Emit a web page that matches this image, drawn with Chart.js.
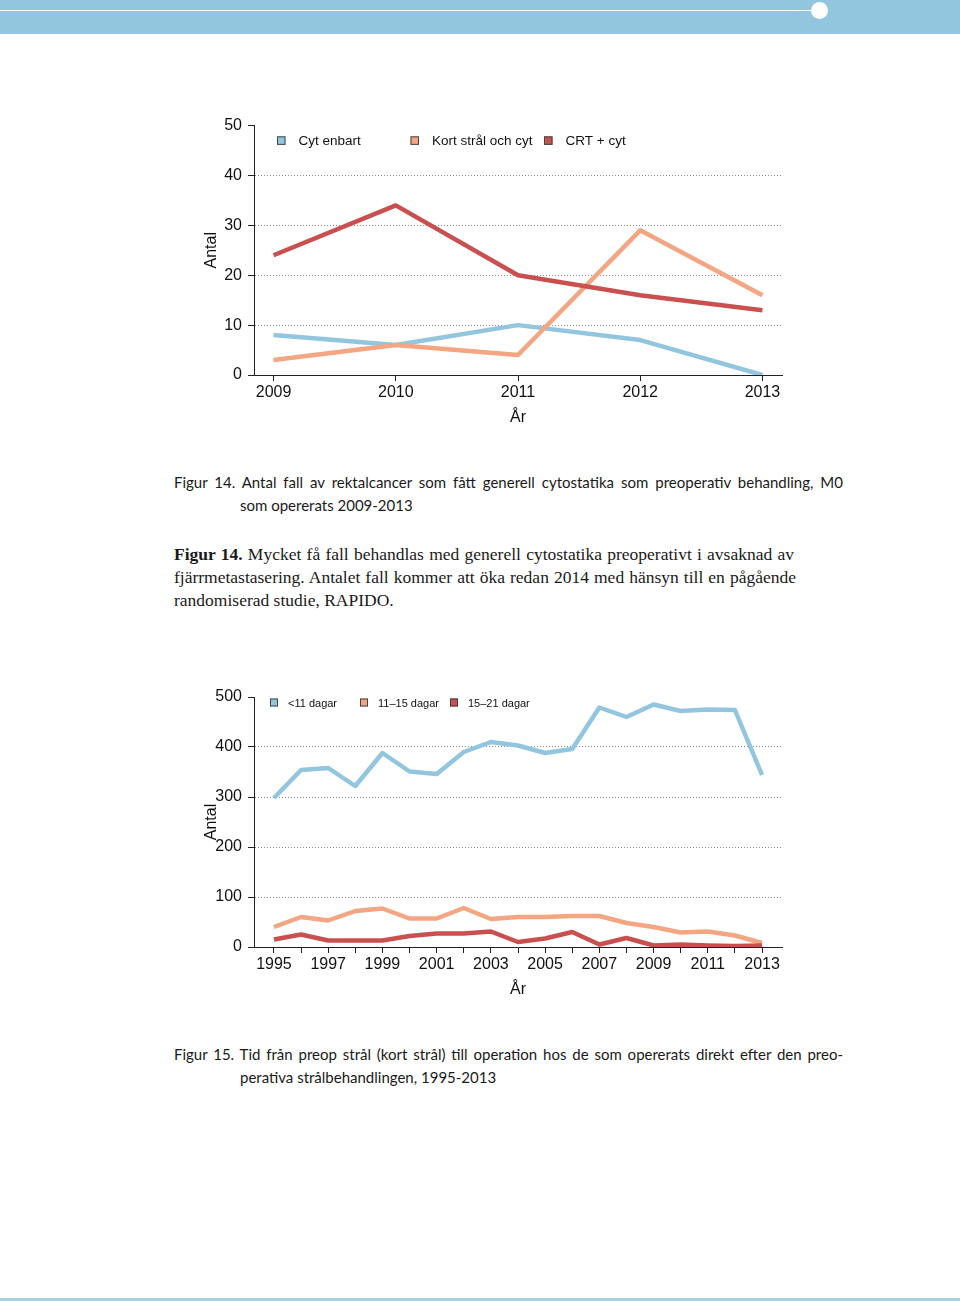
<!DOCTYPE html>
<html>
<head>
<meta charset="utf-8">
<script src="https://cdn.jsdelivr.net/npm/chart.js@4.4.1/dist/chart.umd.min.js"></script>
<style>
  body { margin: 0; width: 960px; height: 1301px; position: relative; background: #fff; overflow: hidden; }
  #topbar { position: absolute; left: 0; top: 0; width: 960px; height: 34px; background: #92c5de; }
  #topline { position: absolute; left: 0; top: 9.5px; width: 815px; height: 1.5px; background: #fff; }
  #dot { position: absolute; left: 811px; top: 1.5px; width: 17px; height: 17px; border-radius: 50%; background: #fff; }
  #bottomline { position: absolute; left: 0; top: 1298px; width: 960px; height: 3px; background: #a7cfe1; }
  .plot { position: absolute; left: 190px; width: 600px; height: 330px; }
  .line { position: absolute; height: 23px; line-height: 23px; color: #1a1a1a; white-space: nowrap; }
  .sans { font-family: "Lato", "Liberation Sans", sans-serif; font-size: 15px; }
  .serif { font-family: "Liberation Serif", serif; font-size: 17.5px; }
  .j { text-align: justify; text-align-last: justify; }
</style>
</head>
<body>
<div id="topbar"></div>
<div id="topline"></div>
<div id="dot"></div>

<div class="plot" style="top:110px"><canvas id="fig14" width="600" height="330"></canvas></div>

<div class="line sans j" style="left:174px; top:471px; width:669px">Figur 14. Antal fall av rektalcancer som fått generell cytostatika som preoperativ behandling, M0</div>
<div class="line sans" style="left:240px; top:494px">som opererats 2009-2013</div>

<div class="line serif j" style="left:174px; top:543px; width:620px"><b>Figur 14.</b> Mycket få fall behandlas med generell cytostatika preoperativt i avsaknad av</div>
<div class="line serif j" style="left:174px; top:566px; width:622px">fjärrmetastasering. Antalet fall kommer att öka redan 2014 med hänsyn till en pågående</div>
<div class="line serif" style="left:174px; top:589px">randomiserad studie, RAPIDO.</div>

<div class="plot" style="top:680px"><canvas id="fig15" width="600" height="330"></canvas></div>

<div class="line sans j" style="left:174px; top:1043px; width:669px">Figur 15. Tid från preop strål (kort strål) till operation hos de som opererats direkt efter den preo-</div>
<div class="line sans" style="left:240px; top:1066px">perativa strålbehandlingen, 1995-2013</div>

<div id="bottomline"></div>

<script>
// figur 14
const years14 = [2009, 2010, 2011, 2012, 2013];
const cytEnbart = [8, 6, 10, 7, 0];
const kortStralOchCyt = [3, 6, 4, 29, 16];
const crtCyt = [24, 34, 20, 16, 13];
const yTicks14 = [0, 10, 20, 30, 40, 50];

// figur 15
const years15 = [1995, 1996, 1997, 1998, 1999, 2000, 2001, 2002, 2003, 2004,
                 2005, 2006, 2007, 2008, 2009, 2010, 2011, 2012, 2013];
const under11 = [298, 354, 358, 322, 388, 351, 346, 390, 410, 403,
                 388, 396, 479, 460, 485, 472, 475, 474, 344];
const dagar11to15 = [40, 60, 53, 72, 77, 57, 57, 78, 56, 60,
                     60, 62, 62, 48, 40, 29, 31, 23, 8];
const dagar15to21 = [15, 25, 13, 13, 13, 22, 27, 27, 31, 10,
                     17, 30, 5, 18, 3, 5, 3, 2, 3];
const yTicks15 = [0, 100, 200, 300, 400, 500];
const xLabels15 = ['1995', '1997', '1999', '2001', '2003', '2005', '2007', '2009', '2011', '2013'];

const BLUE = '#92c5de', ORANGE = '#f4a582', RED = '#c9504f';

Chart.defaults.font.family = '"Liberation Sans", Arial, sans-serif';
Chart.defaults.color = '#111';

// legend drawn in equal columns inside the plot, like the original
const columnLegend = {
  id: 'columnLegend',
  afterDraw(chart, args, opts) {
    const ctx = chart.ctx;
    const area = chart.chartArea;
    ctx.save();
    ctx.font = opts.fontSize + 'px "Liberation Sans", Arial, sans-serif';
    ctx.textBaseline = 'middle';
    chart.data.datasets.forEach((ds, i) => {
      const bx = area.left + opts.startX + i * opts.colWidth;
      const cy = area.top + opts.offsetY;
      ctx.fillStyle = ds.borderColor;
      ctx.fillRect(bx, cy - opts.box / 2, opts.box, opts.box);
      ctx.strokeStyle = '#444';
      ctx.lineWidth = 1;
      ctx.strokeRect(bx + 0.5, cy - opts.box / 2 + 0.5, opts.box - 1, opts.box - 1);
      ctx.fillStyle = '#111';
      ctx.fillText(ds.label, bx + opts.textGap, cy + 1);
    });
    ctx.restore();
  }
};

function series(xs, ys) {
  return ys.map((v, i) => ({ x: xs[i], y: v }));
}

function lineSet(label, xs, ys, color, order) {
  return {
    label: label,
    data: series(xs, ys),
    borderColor: color,
    backgroundColor: color,
    borderWidth: 4.5,
    pointRadius: 0,
    borderJoinStyle: 'round',
    tension: 0,
    order: order
  };
}

function makeChart(id, xs, xLabels, yTicks, datasets, pad, legendOpts) {
  const yMax = yTicks[yTicks.length - 1];
  return new Chart(document.getElementById(id), {
    type: 'line',
    data: { datasets: datasets },
    plugins: [columnLegend],
    options: {
      responsive: false,
      animation: false,
      layout: { padding: pad },
      plugins: {
        legend: { display: false },
        tooltip: { enabled: false },
        columnLegend: legendOpts
      },
      scales: {
        x: {
          type: 'linear',
          min: xs[0] - pad.xExtra,
          max: xs[xs.length - 1] + pad.xExtra,
          afterBuildTicks: s => { s.ticks = xs.map(v => ({ value: v })); },
          afterFit: s => { s.height = 52; },
          ticks: {
            autoSkip: false,
            maxRotation: 0,
            padding: 2,
            font: { size: 16 },
            callback: v => xLabels.includes(String(v)) ? String(v) : ''
          },
          grid: { drawOnChartArea: false, tickLength: 6, tickColor: '#222', tickWidth: 1 },
          border: { color: '#222', width: 1 },
          title: { display: true, text: 'År', font: { size: 16 }, padding: { top: 0, bottom: 0 } }
        },
        y: {
          min: 0,
          max: yMax,
          afterBuildTicks: s => { s.ticks = yTicks.map(v => ({ value: v })); },
          afterFit: s => { s.width = 64; },
          ticks: { padding: 6, font: { size: 16 }, callback: v => String(v) },
          grid: {
            color: c => (c.tick && (c.tick.value === 0 || c.tick.value === yMax)) ? 'rgba(0,0,0,0)' : '#8a8a8a',
            lineWidth: 1,
            tickLength: 6,
            tickColor: '#222',
            tickBorderDash: []
          },
          border: { color: '#222', width: 1, dash: [1, 2] },
          title: { display: true, text: 'Antal', font: { size: 16 }, padding: { top: 11.5, bottom: 0 } }
        }
      }
    }
  });
}

makeChart('fig14', years14, years14.map(String), yTicks14, [
  lineSet('Cyt enbart', years14, cytEnbart, BLUE, 2),
  lineSet('Kort strål och cyt', years14, kortStralOchCyt, ORANGE, 1),
  lineSet('CRT + cyt', years14, crtCyt, RED, 0)
], { top: 15, right: 8, bottom: 13, left: 0, xExtra: 0.16 },
   { startX: 23, colWidth: 133.5, offsetY: 15, box: 8.5, textGap: 21.5, fontSize: 13.5 });

makeChart('fig15', years15, xLabels15, yTicks15, [
  lineSet('<11 dagar', years15, under11, BLUE, 2),
  lineSet('11\u201315 dagar', years15, dagar11to15, ORANGE, 1),
  lineSet('15\u201321 dagar', years15, dagar15to21, RED, 0)
], { top: 17, right: 8, bottom: 11, left: 0, xExtra: 0.736 },
   { startX: 16, colWidth: 90, offsetY: 5.5, box: 8, textGap: 18, fontSize: 11 });
</script>
</body>
</html>
